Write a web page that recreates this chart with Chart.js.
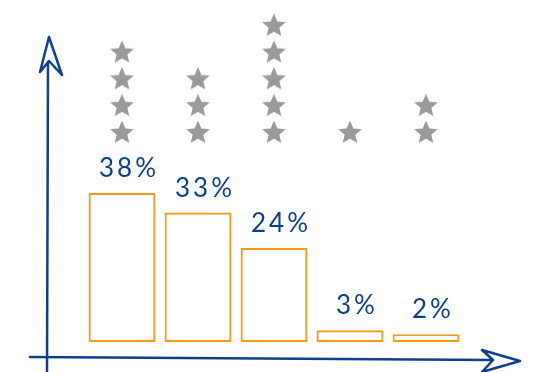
<!DOCTYPE html>
<html>
<head>
<meta charset="utf-8">
<script src="https://cdn.jsdelivr.net/npm/chart.js@4/dist/chart.umd.min.js"></script>
<style>
  html, body { margin: 0; padding: 0; background: #ffffff; }
  #wrap { width: 540px; height: 372px; }
</style>
</head>
<body>
<div id="wrap"><canvas id="c" width="540" height="372"></canvas></div>
<script>
// ---- data ----
const categories = ['Option 1', 'Option 2', 'Option 3', 'Option 4', 'Option 5'];
const shares = [38, 33, 24, 3, 2];
const starCounts = [4, 3, 5, 1, 2];
const valueLabels = ['38%', '33%', '24%', '3%', '2%'];

// ---- colours ----
const ORANGE = '#f39a1b';
const BLUE = '#0f3f8c';
const GREY = '#9a9a9c';

// star point style
function makeStar(size, color) {
  const cv = document.createElement('canvas');
  cv.width = size; cv.height = size;
  const g = cv.getContext('2d');
  const cx = size / 2, cy = size / 2 + 1, R = size / 2 - 0.5, r = R * 0.45;
  g.beginPath();
  for (let k = 0; k < 10; k++) {
    const a = -Math.PI / 2 + k * Math.PI / 5;
    const rad = k % 2 === 0 ? R : r;
    const px = cx + rad * Math.cos(a), py = cy + rad * Math.sin(a);
    k === 0 ? g.moveTo(px, py) : g.lineTo(px, py);
  }
  g.closePath();
  g.fillStyle = color;
  g.fill();
  return cv;
}
const starImg = makeStar(26, GREY);

const starPoints = [];
categories.forEach((c, i) => {
  for (let r = 1; r <= starCounts[i]; r++) starPoints.push({ x: c, y: r });
});

// axes with arrows + value labels
const sketchPlugin = {
  id: 'sketch',
  afterDatasetsDraw(chart) {
    const { ctx, chartArea: a } = chart;
    ctx.save();
    ctx.strokeStyle = BLUE;
    ctx.lineWidth = 2.5;
    ctx.lineCap = 'round';
    ctx.lineJoin = 'round';
    // y axis
    const yx = a.left - 37;
    ctx.beginPath();
    ctx.moveTo(yx, a.bottom + 30);
    ctx.lineTo(yx + 1, a.top + 62);
    ctx.stroke();
    // y arrow (dart outline)
    ctx.beginPath();
    ctx.moveTo(yx + 2, a.top + 37);
    ctx.lineTo(yx - 7, a.top + 72);
    ctx.lineTo(yx + 2, a.top + 61);
    ctx.lineTo(yx + 15, a.top + 75);
    ctx.closePath();
    ctx.stroke();
    // x axis
    const xy = a.bottom + 15;
    ctx.beginPath();
    ctx.moveTo(a.left - 54, xy);
    ctx.lineTo(a.right + 28, xy + 3);
    ctx.stroke();
    // x arrow
    ctx.beginPath();
    ctx.moveTo(a.right + 56, xy + 4);
    ctx.lineTo(a.right + 18, xy - 7);
    ctx.lineTo(a.right + 29, xy + 3);
    ctx.lineTo(a.right + 18, xy + 15);
    ctx.closePath();
    ctx.stroke();

    // value labels
    const meta = chart.getDatasetMeta(0);
    ctx.fillStyle = BLUE;
    ctx.font = '26px Lato';
    ctx.letterSpacing = '3px';
    ctx.textAlign = 'center';
    ctx.textBaseline = 'alphabetic';
    meta.data.forEach((bar, i) => {
      ctx.fillText(valueLabels[i], bar.x + 7, bar.y - 16);
    });
    ctx.restore();
  }
};

new Chart(document.getElementById('c'), {
  type: 'bar',
  data: {
    labels: categories,
    datasets: [
      {
        type: 'bar',
        data: shares,
        yAxisID: 'y',
        backgroundColor: '#ffffff',
        borderColor: ORANGE,
        borderWidth: 2.2,
        borderSkipped: false,
        barPercentage: 0.88,
        categoryPercentage: 1.0,
        order: 2
      },
      {
        type: 'line',
        data: starPoints,
        yAxisID: 'ys',
        showLine: false,
        pointStyle: starImg,
        pointRadius: 13,
        order: 1
      }
    ]
  },
  options: {
    responsive: false,
    animation: false,
    devicePixelRatio: 1,
    layout: { autoPadding: false, padding: { left: 84, right: 76, top: 0, bottom: 30 } },
    plugins: { legend: { display: false }, tooltip: { enabled: false } },
    scales: {
      x: { type: 'category', display: false, offset: true },
      y: { display: false, min: 0, max: 87.2 },
      ys: { display: false, min: -6.85, max: 5.93 }
    }
  },
  plugins: [sketchPlugin]
});
</script>
</body>
</html>
